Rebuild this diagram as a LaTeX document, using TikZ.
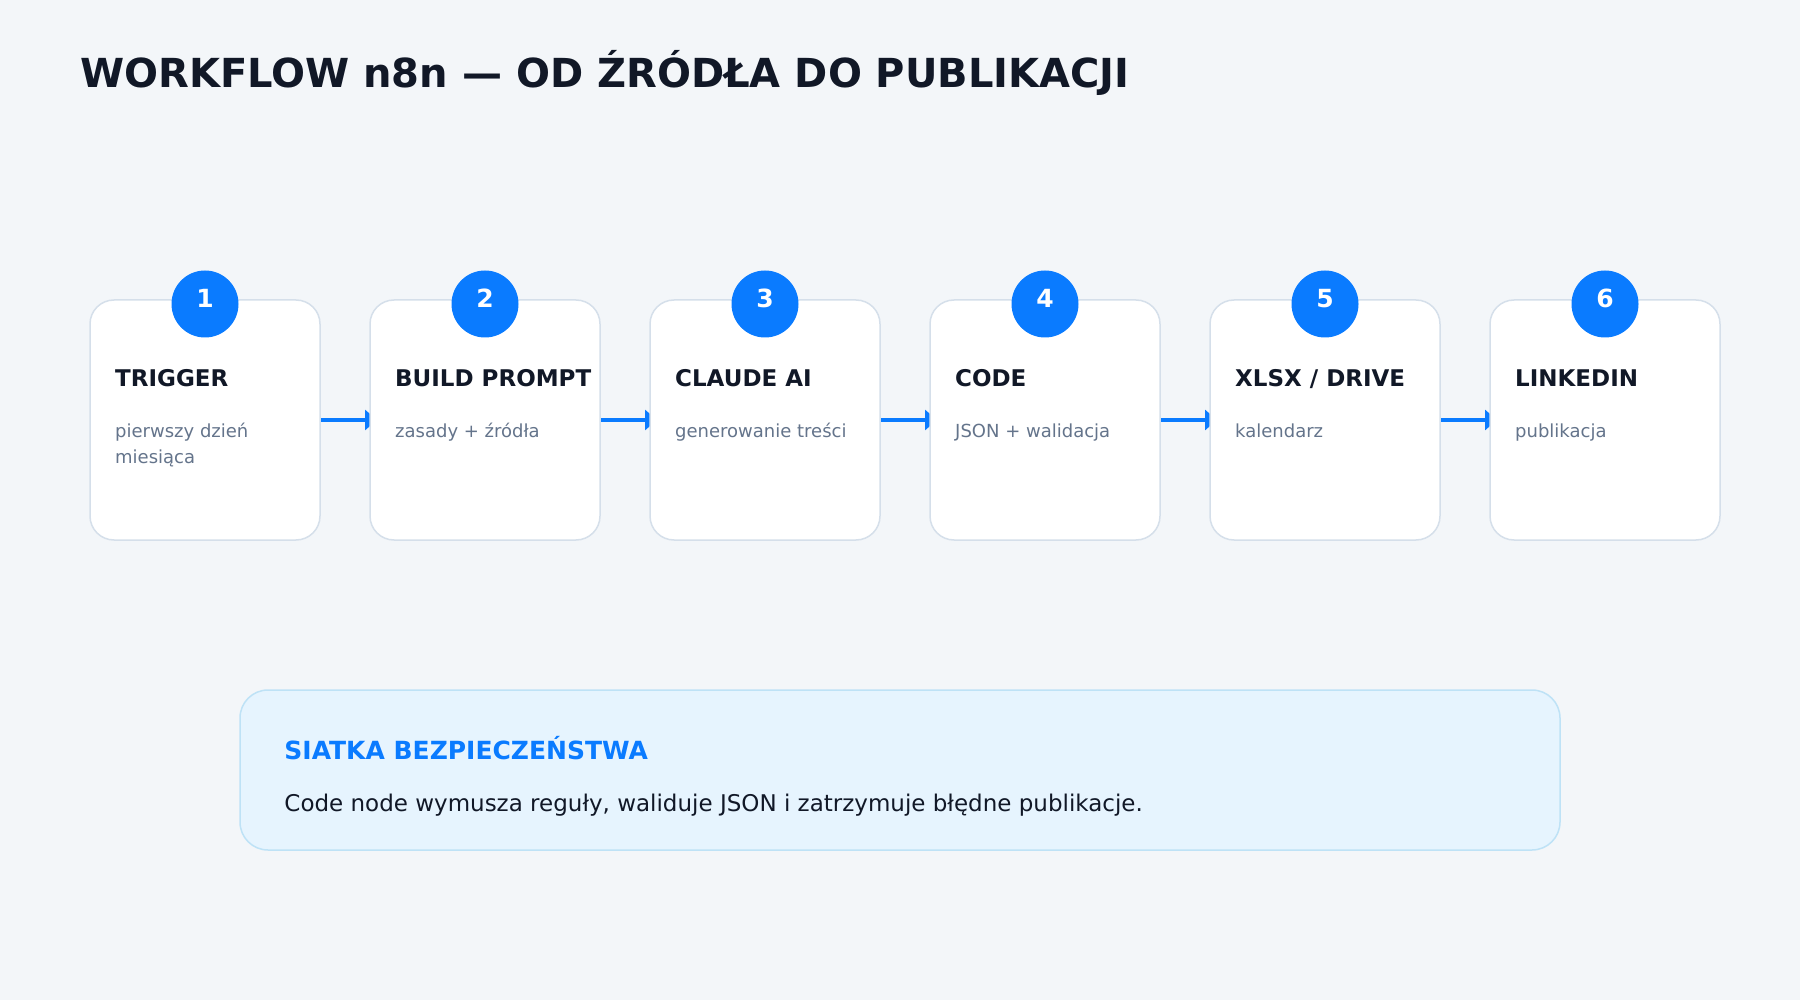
\documentclass[tikz,border=0pt]{standalone}
\usepackage{fontspec}
\setmainfont{DejaVu Sans}
\usetikzlibrary{
	calc,
	positioning,
	chains,
	arrows.meta
}
\definecolor{pagebg}{HTML}{F3F6F9}
\definecolor{ink}{HTML}{111827}
\definecolor{muted}{HTML}{64748B}
\definecolor{flowblue}{HTML}{0A7BFF}
\definecolor{cardline}{HTML}{D5DFEA}
\definecolor{notefill}{HTML}{E6F4FE}
\definecolor{noteline}{HTML}{BEE2F6}
\pgfdeclarelayer{back}
\pgfdeclarelayer{links}
\pgfsetlayers{back,links,main}

\begin{document}
\begin{tikzpicture}[x=1pt,y=-1pt,node distance = 50pt,start chain = going right,
card/.style = {draw=cardline,line width=1.5pt,fill=white,rounded corners=24pt,minimum width=230pt,minimum height=240pt,inner sep=0pt,outer sep=0pt,on chain},
num/.style = {circle,fill=flowblue,text=white,minimum size=67pt,inner sep=0pt,font=\fontsize{25}{30}\selectfont\bfseries},
head/.style = {anchor=base west,inner sep=0pt,text=ink,font=\fontsize{23}{28}\selectfont\bfseries},
sub/.style = {anchor=base west,inner sep=0pt,text=muted,align=left,font=\fontsize{18}{26}\selectfont},
flow/.style = {draw=flowblue,line width=4.5pt,-{Triangle[width=20pt,length=12pt]}},
]
\begin{pgfonlayer}{back}
\fill[pagebg] (0,0) rectangle (1800,1000);
\end{pgfonlayer}

\node (ttl)[anchor=base west,inner sep=0pt,text=ink,font=\fontsize{40}{48}\selectfont\bfseries] at (80,88) {WORKFLOW n8n — OD ŹRÓDŁA DO PUBLIKACJI};

% steps
\node (b1)[card] at (205,420) {};
\node (b2)[card] {};
\node (b3)[card] {};
\node (b4)[card] {};
\node (b5)[card] {};
\node (b6)[card] {};

\node (n1)[num] at ([yshift=-4pt]b1.north) {\raisebox{11.5pt}{1}};
\node (n2)[num] at ([yshift=-4pt]b2.north) {\raisebox{11.5pt}{2}};
\node (n3)[num] at ([yshift=-4pt]b3.north) {\raisebox{11.5pt}{3}};
\node (n4)[num] at ([yshift=-4pt]b4.north) {\raisebox{11.5pt}{4}};
\node (n5)[num] at ([yshift=-4pt]b5.north) {\raisebox{11.5pt}{5}};
\node (n6)[num] at ([yshift=-4pt]b6.north) {\raisebox{11.5pt}{6}};

\node (h1)[head] at ($(b1.north west)+(25,87)$) {TRIGGER};
\node (h2)[head] at ($(b2.north west)+(25,87)$) {BUILD PROMPT};
\node (h3)[head] at ($(b3.north west)+(25,87)$) {CLAUDE AI};
\node (h4)[head] at ($(b4.north west)+(25,87)$) {CODE};
\node (h5)[head] at ($(b5.north west)+(25,87)$) {XLSX / DRIVE};
\node (h6)[head] at ($(b6.north west)+(25,87)$) {LINKEDIN};

% two lines: base is the last line
\node (d1)[sub] at ($(b1.north west)+(25,163)$) {pierwszy dzień\\miesiąca};
\node (d2)[sub] at ($(b2.north west)+(25,137)$) {zasady + źródła};
\node (d3)[sub] at ($(b3.north west)+(25,137)$) {generowanie treści};
\node (d4)[sub] at ($(b4.north west)+(25,137)$) {JSON + walidacja};
\node (d5)[sub] at ($(b5.north west)+(25,137)$) {kalendarz};
\node (d6)[sub] at ($(b6.north west)+(25,137)$) {publikacja};

\begin{pgfonlayer}{links}
\draw[flow] (b1.east) -- ([xshift=7pt]b2.west);
\draw[flow] (b2.east) -- ([xshift=7pt]b3.west);
\draw[flow] (b3.east) -- ([xshift=7pt]b4.west);
\draw[flow] (b4.east) -- ([xshift=7pt]b5.west);
\draw[flow] (b5.east) -- ([xshift=7pt]b6.west);
\end{pgfonlayer}

% safety note
\node (note)[draw=noteline,line width=1.5pt,fill=notefill,rounded corners=28pt,minimum width=1320pt,minimum height=160pt] at (900,770) {};
\node (nh)[anchor=base west,inner sep=0pt,text=flowblue,font=\fontsize{25}{30}\selectfont\bfseries] at ($(note.north west)+(45,70)$) {SIATKA BEZPIECZEŃSTWA};
\node (nt)[anchor=base west,inner sep=0pt,text=ink,font=\fontsize{23}{30}\selectfont] at ($(note.north west)+(45,122)$) {Code node wymusza reguły, waliduje JSON i zatrzymuje błędne publikacje.};
\end{tikzpicture}
\end{document}
